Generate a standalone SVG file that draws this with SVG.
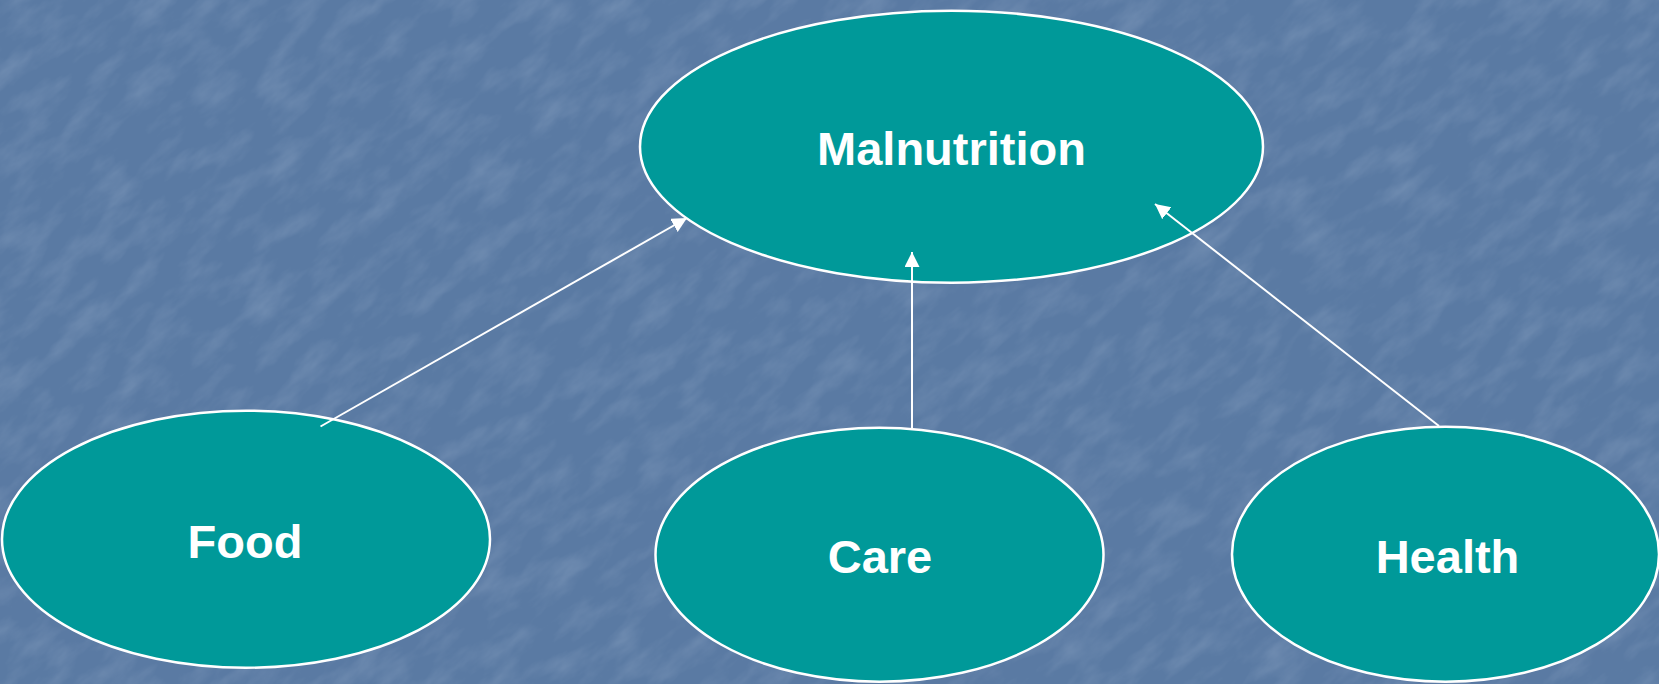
<svg xmlns="http://www.w3.org/2000/svg" width="1659" height="684" viewBox="0 0 1659 684">
  <defs>
    <style>
      .node { fill: #009999; stroke: #ffffff; stroke-width: 2.5; }
      .label { fill: #ffffff; font-family: "Liberation Sans", Arial, sans-serif; font-weight: bold; font-size: 47px; text-anchor: middle; }
      .conn { stroke: #ffffff; stroke-width: 2; fill: none; marker-end: url(#arrow); }
    </style>
    <marker id="arrow" markerUnits="userSpaceOnUse" markerWidth="16" markerHeight="16" refX="15" refY="7.5" orient="auto">
      <path d="M0,0 L15,7.5 L0,15 z" fill="#ffffff"/>
    </marker>
    <filter id="tex" x="0" y="0" width="100%" height="100%">
      <feTurbulence type="fractalNoise" baseFrequency="0.02 0.05" numOctaves="4" seed="7" result="n"/>
      <feColorMatrix in="n" type="matrix" values="0 0 0 0 0.55  0 0 0 0 0.65  0 0 0 0 0.8  0 0 0 1.2 -0.5"/>
    </filter>
  </defs>
  <rect width="1659" height="684" fill="#5a7aa3"/>
  <g transform="rotate(-40 830 342)" opacity="0.3">
    <rect x="-600" y="-600" width="2900" height="1900" filter="url(#tex)"/>
  </g>
  <g id="node-malnutrition">
    <ellipse class="node" cx="951.5" cy="146.7" rx="311.5" ry="136"/>
    <text class="label" x="951.5" y="165">Malnutrition</text>
  </g>
  <g id="node-food">
    <ellipse class="node" cx="246" cy="539.2" rx="244" ry="128.5"/>
    <text class="label" x="245" y="558">Food</text>
  </g>
  <g id="node-care">
    <ellipse class="node" cx="879.5" cy="554.7" rx="224" ry="127"/>
    <text class="label" x="880" y="573">Care</text>
  </g>
  <g id="node-health">
    <ellipse class="node" cx="1445.5" cy="554.2" rx="213.5" ry="127.5"/>
    <text class="label" x="1447.5" y="573">Health</text>
  </g>
  <g id="connectors">
    <line class="conn" x1="320.5" y1="426.5" x2="687" y2="218"/>
    <line class="conn" x1="912" y1="428" x2="912" y2="252"/>
    <line class="conn" x1="1439" y1="426" x2="1155" y2="204"/>
  </g>
</svg>
